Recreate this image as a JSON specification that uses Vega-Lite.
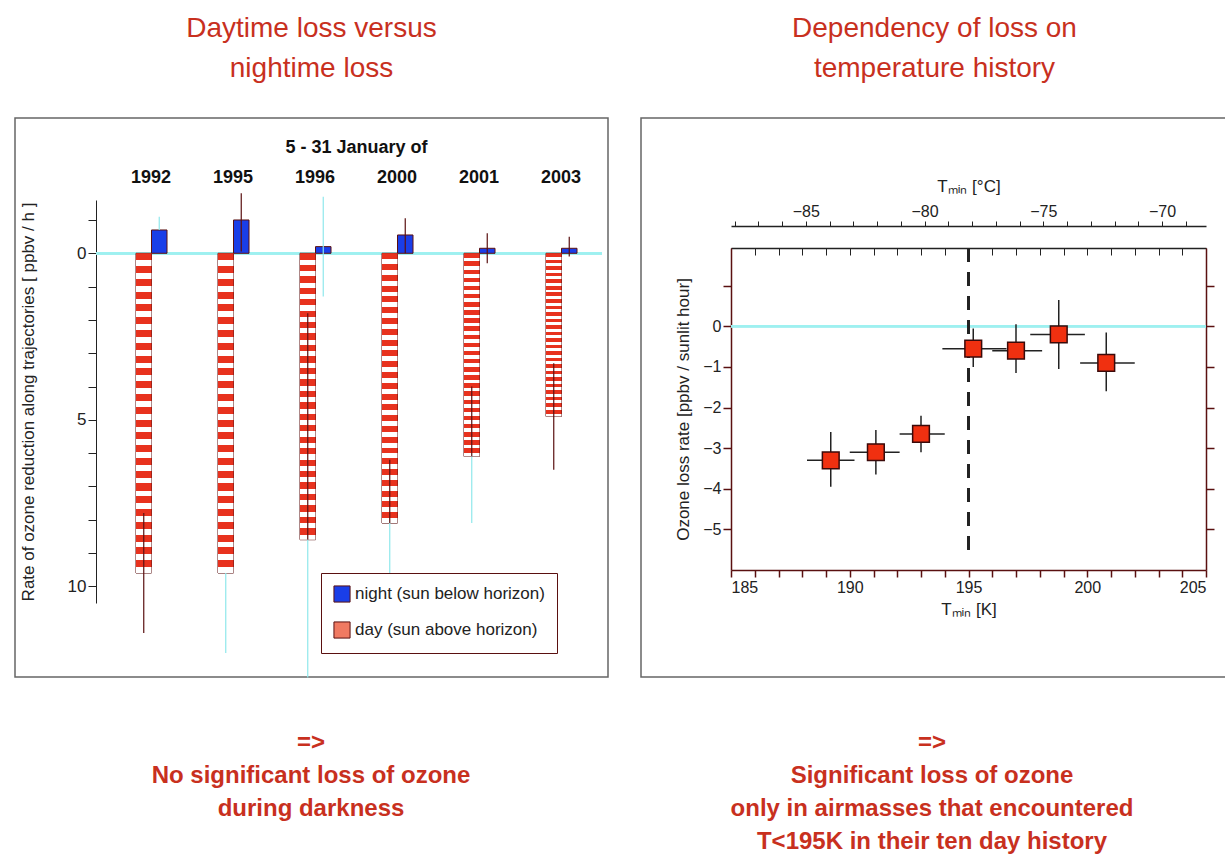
{
  "$schema": "https://vega.github.io/schema/vega-lite/v6.json",
  "padding": {"left": 14, "top": 14, "right": 0, "bottom": 0},
  "background": "white",
  "config": {
    "font": "Liberation Sans",
    "view": {"stroke": "#666", "strokeWidth": 1.5},
    "title": {"color": "#c8301e", "fontSize": 28, "fontWeight": "normal", "lineHeight": 40, "anchor": "middle", "offset": 35},
    "axis": {"labelFont": "Liberation Sans", "titleFont": "Liberation Sans", "grid": false, "labelColor": "#222", "titleColor": "#222", "titleFontWeight": "normal"}
  },
  "vconcat": [
    {
      "hconcat": [
        {
          "title": {"text": ["Daytime loss versus", "nightime loss"]},
          "width": 593,
          "height": 559,
          "data": {"values": [
            {"year": "1992", "kind": "day (sun above horizon)", "v": 9.6},
            {"year": "1995", "kind": "day (sun above horizon)", "v": 9.6},
            {"year": "1996", "kind": "day (sun above horizon)", "v": 8.6},
            {"year": "2000", "kind": "day (sun above horizon)", "v": 8.1},
            {"year": "2001", "kind": "day (sun above horizon)", "v": 6.1},
            {"year": "2003", "kind": "day (sun above horizon)", "v": 4.9},
            {"year": "1992", "kind": "night (sun below horizon)", "v": -0.7},
            {"year": "1995", "kind": "night (sun below horizon)", "v": -1.0},
            {"year": "1996", "kind": "night (sun below horizon)", "v": -0.2},
            {"year": "2000", "kind": "night (sun below horizon)", "v": -0.55},
            {"year": "2001", "kind": "night (sun below horizon)", "v": -0.15},
            {"year": "2003", "kind": "night (sun below horizon)", "v": -0.15}
          ]},
          "layer": [
            {
              "mark": {"type": "rule", "color": "#9ef0f0", "strokeWidth": 2},
              "encoding": {"y": {"datum": 0, "scale": {"domain": [-1.6, 10.5], "range": [82, 485], "nice": false, "zero": false}}, "x": {"value": 81}, "x2": {"value": 587}}
            },
            {
              "mark": {"type": "bar", "stroke": "#5a1010", "strokeWidth": 1},
              "encoding": {
                "x": {"field": "year", "type": "ordinal", "scale": {"range": [95, 587], "paddingInner": 0, "paddingOuter": 0},
                  "axis": {"orient": "top", "offset": -68, "domain": false, "ticks": false, "labelAngle": 0, "labelFontSize": 18, "labelFontWeight": "bold", "labelColor": "#111", "labelPadding": 0,
                    "title": "5 - 31 January of", "titleFontSize": 18, "titleFontWeight": "bold", "titleColor": "#111", "titlePadding": 12}},
                "xOffset": {"field": "kind", "type": "nominal", "scale": {"domain": ["day (sun above horizon)", "night (sun below horizon)"], "range": [26, 57], "paddingInner": 0, "paddingOuter": 0}},
                "y": {"field": "v", "type": "quantitative", "scale": {"domain": [-1.6, 10.5], "range": [82, 485], "nice": false, "zero": false},
                  "axis": {"offset": -81, "values": [-1, 0, 1, 2, 3, 4, 5, 6, 7, 8, 9, 10], "labelExpr": "datum.value % 5 == 0 ? datum.label : ''", "labelFontSize": 17, "domainColor": "#222", "tickColor": "#222", "tickSize": 8,
                    "title": "Rate of ozone reduction along trajectories [ ppbv / h ]", "titleFontSize": 17, "titlePadding": 30}},
                "y2": {"datum": 0},
                "color": {"field": "kind", "type": "nominal", "scale": {"domain": ["night (sun below horizon)", "day (sun above horizon)"], "range": ["#1a3ee8", "#f07a62"]},
                  "legend": {"orient": "none", "legendX": 306, "legendY": 455, "title": null, "strokeColor": "#5a1010", "padding": 12, "symbolType": "square", "symbolSize": 260, "symbolStrokeColor": "#5a1010", "symbolStrokeWidth": 1, "labelFontSize": 17, "labelLimit": 0, "labelColor": "#222", "rowPadding": 14, "fillColor": "white"}}
              }
            },
            {
              "transform": [{"filter": "datum.kind == 'day (sun above horizon)'"}],
              "mark": {"type": "bar", "fill": {"gradient": "linear", "x1": 0, "y1": 0, "x2": 0, "y2": 1, "stops": [
                {"offset": 0, "color": "#e8321e"}, {"offset": 0.022, "color": "#e8321e"}, {"offset": 0.022, "color": "#ffffff"}, {"offset": 0.04, "color": "#ffffff"},
                {"offset": 0.04, "color": "#e8321e"}, {"offset": 0.062, "color": "#e8321e"}, {"offset": 0.062, "color": "#ffffff"}, {"offset": 0.08, "color": "#ffffff"},
                {"offset": 0.08, "color": "#e8321e"}, {"offset": 0.102, "color": "#e8321e"}, {"offset": 0.102, "color": "#ffffff"}, {"offset": 0.12, "color": "#ffffff"},
                {"offset": 0.12, "color": "#e8321e"}, {"offset": 0.142, "color": "#e8321e"}, {"offset": 0.142, "color": "#ffffff"}, {"offset": 0.16, "color": "#ffffff"},
                {"offset": 0.16, "color": "#e8321e"}, {"offset": 0.182, "color": "#e8321e"}, {"offset": 0.182, "color": "#ffffff"}, {"offset": 0.2, "color": "#ffffff"},
                {"offset": 0.2, "color": "#e8321e"}, {"offset": 0.222, "color": "#e8321e"}, {"offset": 0.222, "color": "#ffffff"}, {"offset": 0.24, "color": "#ffffff"},
                {"offset": 0.24, "color": "#e8321e"}, {"offset": 0.262, "color": "#e8321e"}, {"offset": 0.262, "color": "#ffffff"}, {"offset": 0.28, "color": "#ffffff"},
                {"offset": 0.28, "color": "#e8321e"}, {"offset": 0.302, "color": "#e8321e"}, {"offset": 0.302, "color": "#ffffff"}, {"offset": 0.32, "color": "#ffffff"},
                {"offset": 0.32, "color": "#e8321e"}, {"offset": 0.342, "color": "#e8321e"}, {"offset": 0.342, "color": "#ffffff"}, {"offset": 0.36, "color": "#ffffff"},
                {"offset": 0.36, "color": "#e8321e"}, {"offset": 0.382, "color": "#e8321e"}, {"offset": 0.382, "color": "#ffffff"}, {"offset": 0.4, "color": "#ffffff"},
                {"offset": 0.4, "color": "#e8321e"}, {"offset": 0.422, "color": "#e8321e"}, {"offset": 0.422, "color": "#ffffff"}, {"offset": 0.44, "color": "#ffffff"},
                {"offset": 0.44, "color": "#e8321e"}, {"offset": 0.462, "color": "#e8321e"}, {"offset": 0.462, "color": "#ffffff"}, {"offset": 0.48, "color": "#ffffff"},
                {"offset": 0.48, "color": "#e8321e"}, {"offset": 0.502, "color": "#e8321e"}, {"offset": 0.502, "color": "#ffffff"}, {"offset": 0.52, "color": "#ffffff"},
                {"offset": 0.52, "color": "#e8321e"}, {"offset": 0.542, "color": "#e8321e"}, {"offset": 0.542, "color": "#ffffff"}, {"offset": 0.56, "color": "#ffffff"},
                {"offset": 0.56, "color": "#e8321e"}, {"offset": 0.582, "color": "#e8321e"}, {"offset": 0.582, "color": "#ffffff"}, {"offset": 0.6, "color": "#ffffff"},
                {"offset": 0.6, "color": "#e8321e"}, {"offset": 0.622, "color": "#e8321e"}, {"offset": 0.622, "color": "#ffffff"}, {"offset": 0.64, "color": "#ffffff"},
                {"offset": 0.64, "color": "#e8321e"}, {"offset": 0.662, "color": "#e8321e"}, {"offset": 0.662, "color": "#ffffff"}, {"offset": 0.68, "color": "#ffffff"},
                {"offset": 0.68, "color": "#e8321e"}, {"offset": 0.702, "color": "#e8321e"}, {"offset": 0.702, "color": "#ffffff"}, {"offset": 0.72, "color": "#ffffff"},
                {"offset": 0.72, "color": "#e8321e"}, {"offset": 0.742, "color": "#e8321e"}, {"offset": 0.742, "color": "#ffffff"}, {"offset": 0.76, "color": "#ffffff"},
                {"offset": 0.76, "color": "#e8321e"}, {"offset": 0.782, "color": "#e8321e"}, {"offset": 0.782, "color": "#ffffff"}, {"offset": 0.8, "color": "#ffffff"},
                {"offset": 0.8, "color": "#e8321e"}, {"offset": 0.822, "color": "#e8321e"}, {"offset": 0.822, "color": "#ffffff"}, {"offset": 0.84, "color": "#ffffff"},
                {"offset": 0.84, "color": "#e8321e"}, {"offset": 0.862, "color": "#e8321e"}, {"offset": 0.862, "color": "#ffffff"}, {"offset": 0.88, "color": "#ffffff"},
                {"offset": 0.88, "color": "#e8321e"}, {"offset": 0.902, "color": "#e8321e"}, {"offset": 0.902, "color": "#ffffff"}, {"offset": 0.92, "color": "#ffffff"},
                {"offset": 0.92, "color": "#e8321e"}, {"offset": 0.942, "color": "#e8321e"}, {"offset": 0.942, "color": "#ffffff"}, {"offset": 0.96, "color": "#ffffff"},
                {"offset": 0.96, "color": "#e8321e"}, {"offset": 0.982, "color": "#e8321e"}, {"offset": 0.982, "color": "#ffffff"}, {"offset": 1, "color": "#ffffff"}
              ]}},
              "encoding": {
                "x": {"field": "year", "type": "ordinal", "scale": {"range": [95, 587], "paddingInner": 0, "paddingOuter": 0}},
                "xOffset": {"field": "kind", "type": "nominal", "scale": {"domain": ["day (sun above horizon)", "night (sun below horizon)"], "range": [26, 57], "paddingInner": 0, "paddingOuter": 0}},
                "y": {"field": "v", "type": "quantitative"},
                "y2": {"datum": 0}
              }
            },
            {
              "data": {"values": [
                {"year": "1992", "kind": "day (sun above horizon)", "lo": 7.8, "hi": 11.4, "part": "dark"},
                {"year": "1995", "kind": "day (sun above horizon)", "lo": 9.6, "hi": 12.0, "part": "light"},
                {"year": "1996", "kind": "day (sun above horizon)", "lo": 1.8, "hi": 8.6, "part": "dark"},
                {"year": "1996", "kind": "day (sun above horizon)", "lo": 8.6, "hi": 12.74, "part": "light"},
                {"year": "2000", "kind": "day (sun above horizon)", "lo": 6.2, "hi": 8.1, "part": "dark"},
                {"year": "2000", "kind": "day (sun above horizon)", "lo": 8.1, "hi": 9.7, "part": "light"},
                {"year": "2001", "kind": "day (sun above horizon)", "lo": 4.0, "hi": 6.1, "part": "dark"},
                {"year": "2001", "kind": "day (sun above horizon)", "lo": 6.1, "hi": 8.1, "part": "light"},
                {"year": "2003", "kind": "day (sun above horizon)", "lo": 3.3, "hi": 6.5, "part": "dark"},
                {"year": "1992", "kind": "night (sun below horizon)", "lo": -1.1, "hi": -0.7, "part": "light"},
                {"year": "1995", "kind": "night (sun below horizon)", "lo": -1.8, "hi": -0.05, "part": "dark"},
                {"year": "1996", "kind": "night (sun below horizon)", "lo": -1.7, "hi": 1.3, "part": "light"},
                {"year": "2000", "kind": "night (sun below horizon)", "lo": -1.05, "hi": 0, "part": "dark"},
                {"year": "2001", "kind": "night (sun below horizon)", "lo": -0.6, "hi": 0.3, "part": "dark"},
                {"year": "2003", "kind": "night (sun below horizon)", "lo": -0.5, "hi": 0.1, "part": "dark"}
              ]},
              "mark": {"type": "rule", "strokeWidth": 1.2},
              "encoding": {
                "x": {"field": "year", "type": "ordinal", "scale": {"range": [95, 587], "paddingInner": 0, "paddingOuter": 0}},
                "xOffset": {"field": "kind", "type": "nominal", "scale": {"domain": ["day (sun above horizon)", "night (sun below horizon)"], "range": [26, 57], "paddingInner": 0, "paddingOuter": 0}},
                "y": {"field": "lo", "type": "quantitative"},
                "y2": {"field": "hi"},
                "color": {"field": "part", "type": "nominal", "scale": {"domain": ["dark", "light"], "range": ["#5a1010", "#8fe8ec"]}, "legend": null}
              }
            }
          ],
          "resolve": {"scale": {"color": "independent"}}
        },
        {
          "title": {"text": ["Dependency of loss on", "temperature history"]},
          "width": 587,
          "height": 559,
          "data": {"values": [
            {"t": 189.2, "r": -3.3, "tlo": 188.2, "thi": 190.2, "rlo": -3.95, "rhi": -2.6},
            {"t": 191.1, "r": -3.1, "tlo": 190.0, "thi": 192.1, "rlo": -3.65, "rhi": -2.55},
            {"t": 193.0, "r": -2.65, "tlo": 192.1, "thi": 194.0, "rlo": -3.1, "rhi": -2.2},
            {"t": 195.2, "r": -0.55, "tlo": 193.9, "thi": 196.6, "rlo": -1.0, "rhi": -0.05},
            {"t": 197.0, "r": -0.6, "tlo": 196.0, "thi": 198.1, "rlo": -1.15, "rhi": 0.05},
            {"t": 198.8, "r": -0.2, "tlo": 197.6, "thi": 199.9, "rlo": -1.05, "rhi": 0.65},
            {"t": 200.8, "r": -0.9, "tlo": 199.7, "thi": 202.0, "rlo": -1.6, "rhi": -0.15}
          ]},
          "layer": [
            {
              "mark": {"type": "rule", "color": "#9ef0f0", "strokeWidth": 2},
              "encoding": {
                "x": {"datum": 185, "type": "quantitative", "scale": {"domain": [185, 205], "range": [90, 565], "nice": false, "zero": false},
                  "axis": {"orient": "bottom", "offset": -107, "values": [185, 186, 187, 188, 189, 190, 191, 192, 193, 194, 195, 196, 197, 198, 199, 200, 201, 202, 203, 204, 205], "labelExpr": "datum.value % 5 == 0 ? datum.label : ''", "labelFontSize": 16, "domainColor": "#5a1010", "tickColor": "#5a1010", "domainWidth": 1.5, "tickWidth": 1.5, "tickSize": 7, "title": "Tₘᵢₙ [K]", "titleFontSize": 17, "titlePadding": 6}},
                "x2": {"datum": 205},
                "y": {"datum": 0, "type": "quantitative", "scale": {"domain": [-6, 1.93], "range": [452, 130], "nice": false, "zero": false},
                  "axis": {"orient": "left", "offset": -90, "values": [-5, -4, -3, -2, -1, 0, 1], "labelExpr": "datum.value < 1 ? datum.label : ''", "labelFontSize": 16, "domainColor": "#5a1010", "tickColor": "#5a1010", "domainWidth": 1.5, "tickWidth": 1.5, "tickSize": 8, "title": "Ozone loss rate [ppbv / sunlit hour]", "titleFontSize": 17, "titlePadding": 10}}
              }
            },
            {
              "mark": {"type": "rule", "color": "#222", "strokeWidth": 2, "strokeDash": [14, 10]},
              "encoding": {
                "x": {"datum": 195, "type": "quantitative", "scale": {"domain": [185, 205], "range": [90, 565], "nice": false, "zero": false},
                  "axis": {"orient": "top", "offset": -130, "values": [185, 186, 187, 188, 189, 190, 191, 192, 193, 194, 195, 196, 197, 198, 199, 200, 201, 202, 203, 204, 205], "labels": false, "domainColor": "#222", "tickColor": "#222", "domainWidth": 1.5, "tickSize": -7, "title": null}},
                "y": {"datum": 1.93, "type": "quantitative", "scale": {"domain": [-6, 1.93], "range": [452, 130], "nice": false, "zero": false},
                  "axis": {"orient": "right", "offset": -22, "values": [-5, -4, -3, -2, -1, 0, 1], "labels": false, "domainColor": "#5a1010", "tickColor": "#5a1010", "domainWidth": 1.5, "tickWidth": 1.5, "tickSize": 8, "title": null}},
                "y2": {"datum": -5.5}
              }
            },
            {
              "mark": {"type": "rule", "color": "#222", "strokeWidth": 1.5},
              "encoding": {
                "x": {"field": "tlo", "type": "quantitative", "scale": {"domain": [185, 205], "range": [90, 565], "nice": false, "zero": false}, "axis": null},
                "x2": {"field": "thi"},
                "y": {"field": "r", "type": "quantitative", "axis": null}
              }
            },
            {
              "mark": {"type": "rule", "color": "#222", "strokeWidth": 1.5},
              "encoding": {
                "x": {"field": "t", "type": "quantitative", "scale": {"domain": [185, 205], "range": [90, 565], "nice": false, "zero": false}, "axis": null},
                "y": {"field": "rlo", "type": "quantitative", "axis": null},
                "y2": {"field": "rhi"}
              }
            },
            {
              "mark": {"type": "square", "size": 280, "fill": "#f03010", "fillOpacity": 1, "stroke": "#3a0a0a", "strokeWidth": 1.5},
              "encoding": {
                "x": {"field": "t", "type": "quantitative", "scale": {"domain": [185, 205], "range": [90, 565], "nice": false, "zero": false}, "axis": null},
                "y": {"field": "r", "type": "quantitative", "axis": null}
              }
            },
            {
              "mark": {"type": "point", "opacity": 0},
              "encoding": {
                "x": {"datum": -80, "type": "quantitative", "scale": {"domain": [-88.15, -68.15], "range": [90, 565], "nice": false, "zero": false},
                  "axis": {"orient": "top", "offset": -108, "values": [-88, -87, -86, -85, -84, -83, -82, -81, -80, -79, -78, -77, -76, -75, -74, -73, -72, -71, -70, -69], "labelExpr": "datum.value % 5 == 0 ? replace(datum.label, '-', '−') : ''", "labelFontSize": 16, "domainColor": "#222", "tickColor": "#222", "domainWidth": 1.5, "tickSize": 5, "title": "Tₘᵢₙ [°C]", "titleFontSize": 17, "titlePadding": 8}},
                "y": {"datum": 0, "type": "quantitative", "axis": null}
              }
            }
          ],
          "resolve": {"scale": {"x": "independent"}, "axis": {"x": "independent", "y": "independent"}}
        }
      ],
      "spacing": 31
    },
    {
      "hconcat": [
        {
          "width": 593,
          "height": 100,
          "view": {"stroke": null},
          "data": {"values": [
            {"line": 0, "txt": "=>"},
            {"line": 1, "txt": "No significant loss of ozone"},
            {"line": 2, "txt": "during darkness"}
          ]},
          "mark": {"type": "text", "fontSize": 24, "fontWeight": "bold", "color": "#c8301e", "align": "center", "baseline": "middle"},
          "encoding": {
            "x": {"value": 296},
            "y": {"field": "line", "type": "quantitative", "axis": null, "scale": {"domain": [0, 2], "range": [0, 66]}},
            "text": {"field": "txt"}
          }
        },
        {
          "width": 587,
          "height": 100,
          "view": {"stroke": null},
          "data": {"values": [
            {"line": 0, "txt": "=>"},
            {"line": 1, "txt": "Significant loss of ozone"},
            {"line": 2, "txt": "only in airmasses that encountered"},
            {"line": 3, "txt": "T<195K in their ten day history"}
          ]},
          "mark": {"type": "text", "fontSize": 24, "fontWeight": "bold", "color": "#c8301e", "align": "center", "baseline": "middle"},
          "encoding": {
            "x": {"value": 293},
            "y": {"field": "line", "type": "quantitative", "axis": null, "scale": {"domain": [0, 3], "range": [0, 99]}},
            "text": {"field": "txt"}
          }
        }
      ],
      "spacing": 31
    }
  ],
  "spacing": 52
}
